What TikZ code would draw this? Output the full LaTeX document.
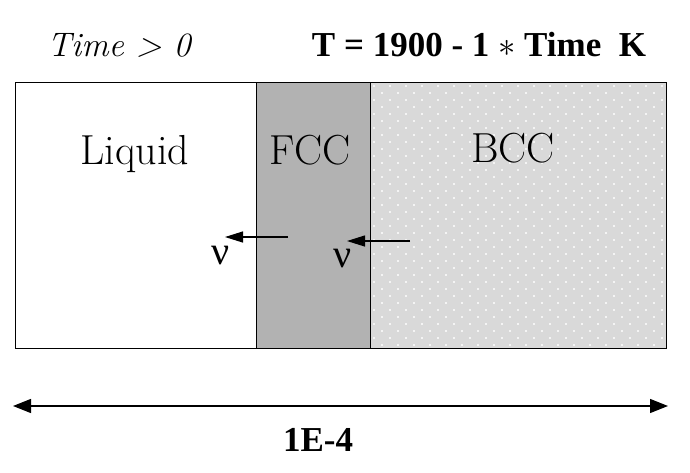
\documentclass[tikz,border=0pt]{standalone}
\usepackage{fontspec}
\newfontfamily\nufont{Liberation Serif}
\newfontfamily\hdrfont{Liberation Serif}
\usetikzlibrary{arrows.meta}
\definecolor{fccgray}{HTML}{B2B2B2}
\definecolor{bccgray}{HTML}{D9D9D9}
\begin{document}
\begin{tikzpicture}[x=0.5pt,y=-0.5pt,
  region/.style={draw=black,line width=0.5pt},
  lbl/.style={font=\fontsize{21}{25}\selectfont,inner sep=0pt,anchor=base},
  nulbl/.style={font=\nufont\fontsize{20}{24}\selectfont,inner sep=0pt,anchor=base},
  ithdr/.style={font=\fontsize{17}{20}\selectfont\itshape,inner sep=0pt,anchor=base},
  hdr/.style={font=\hdrfont\fontsize{17.5}{20}\selectfont\bfseries,inner sep=0pt,anchor=base},
  vel/.style={-{Triangle[length=9pt,width=5.5pt]},line width=0.6pt},
  span/.style={{Triangle[length=9pt,width=7pt]}-{Triangle[length=9pt,width=7pt]},line width=0.6pt},
]
\useasboundingbox (0,0) rectangle (690,472);
\fill[white] (0,0) rectangle (690,472);
% regions
\fill[fccgray] (256,82) rectangle (370,348);
\fill[bccgray] (370,82) rectangle (666,348);
\begin{scope}
  \clip (371,83) rectangle (665,347);
  \foreach \j in {0,...,38} {
    \pgfmathsetmacro{\off}{mod(\j,2)*8}
    \foreach \i in {0,...,19} {
      \fill[white] ({374+\off+\i*16},{86+\j*7}) circle[radius=0.6pt];
    }
  }
\end{scope}
\draw[region] (15,82) rectangle (256,348);
\draw[region] (256,82) rectangle (370,348);
\draw[region] (370,82) rectangle (666,348);
% headers
\node[ithdr] (time) at (119,56) {Time > 0};
\node[hdr] (temp) at (479,56) {T = 1900 - 1 $\ast$ Time\ \ K};
% labels
\node[lbl] (liq) at (135,164) {\addfontfeature{LetterSpace=7}Liquid};
\node[lbl] (fcc) at (310,164) {FCC};
\node[lbl] (bcc) at (513,162) {BCC};
\node[nulbl] (nu1) at (221,264) {ν};
\node[nulbl] (nu2) at (343,267) {ν};
% velocity arrows
\coordinate (a1s) at (288,237);
\coordinate (a1e) at (225,237);
\coordinate (a2s) at (410,241);
\coordinate (a2e) at (347,241);
\draw[vel] (a1s) -- (a1e);
\draw[vel] (a2s) -- (a2e);
% span
\coordinate (sl) at (13,406);
\coordinate (sr) at (668,406);
\draw[span] (sl) -- (sr);
\node[hdr] (len) at (318,451) {1E-4};
\end{tikzpicture}
\end{document}
